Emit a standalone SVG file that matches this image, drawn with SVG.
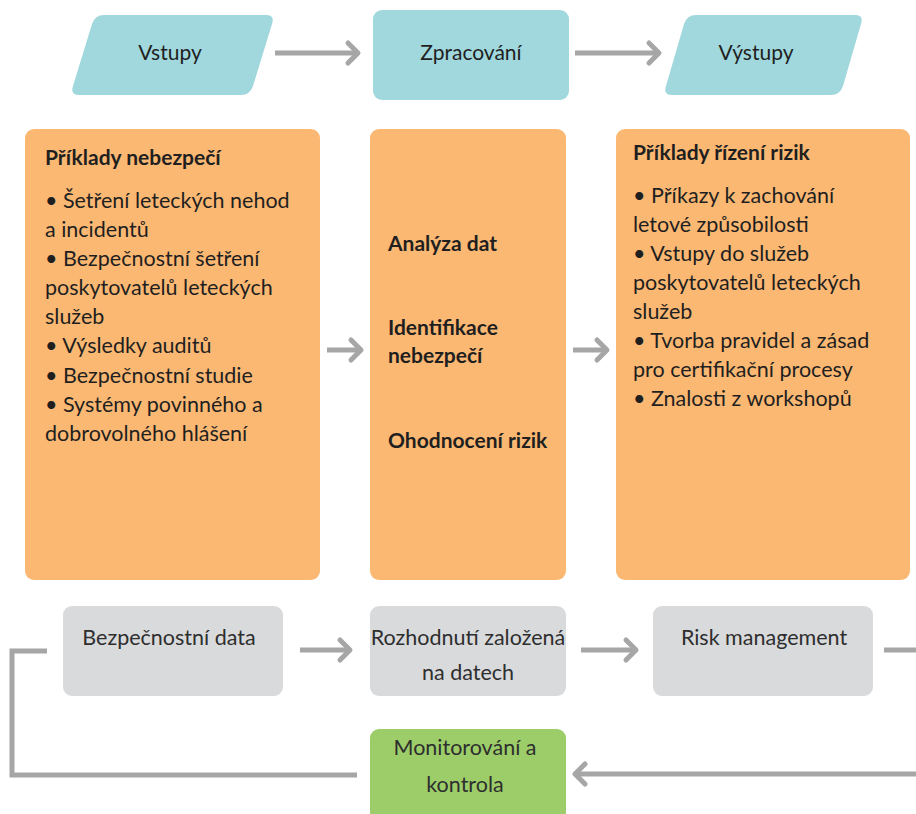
<svg xmlns="http://www.w3.org/2000/svg" width="916" height="814" viewBox="0 0 916 814">
  <style>
    .teal { fill: #a0d8dd; }
    .orange { fill: #fbb873; }
    .gray { fill: #d9dadc; }
    .green { fill: #9ccd69; }
    .lbl { font-family: Lato, "Liberation Sans", sans-serif; fill: #1f1f1f; }
    .top { font-size: 21px; text-anchor: middle; }
    .body { font-size: 21.5px; }
    .bold { font-size: 21px; font-weight: bold; }
    .low { font-size: 21.5px; text-anchor: middle; fill: #2e2e2e; }
    .wire { fill: none; stroke: #a6a6a6; stroke-width: 5; }
  </style>
  <defs>
    <marker id="chev" markerUnits="userSpaceOnUse" viewBox="-16 -14 20 28" refX="0" refY="0" markerWidth="20" markerHeight="28" orient="auto" overflow="visible">
      <path d="M-10,-10 L0,0 L-10,10" fill="none" stroke="#a6a6a6" stroke-width="5" stroke-linecap="round" stroke-linejoin="round"/>
    </marker>
  </defs>

  <rect width="916" height="814" fill="#ffffff"/>

  <!-- top row -->
  <g id="vstupy">
    <path class="teal" d="M104,15 H266 Q275,15 272,24 L253,86 Q250,95 241,95 H79 Q70,95 73,86 L92,24 Q95,15 104,15 Z"/>
    <text class="lbl top" x="170" y="60">Vstupy</text>
  </g>
  <g id="zpracovani">
    <rect class="teal" x="373" y="10" width="196" height="90" rx="9"/>
    <text class="lbl top" x="471" y="60">Zpracování</text>
  </g>
  <g id="vystupy">
    <path class="teal" d="M696,15 H855 Q864,15 861,24 L843,86 Q840,95 831,95 H672 Q663,95 666,86 L684,24 Q687,15 696,15 Z"/>
    <text class="lbl top" x="756" y="60">Výstupy</text>
  </g>

  <!-- middle row -->
  <g id="priklady-nebezpeci">
    <rect class="orange" x="25" y="129" width="295" height="451" rx="9"/>
    <text class="lbl bold" x="45" y="165">Příklady nebezpečí</text>
    <text class="lbl body" x="45" y="208">• Šetření leteckých nehod</text>
    <text class="lbl body" x="45" y="237">a incidentů</text>
    <text class="lbl body" x="45" y="266">• Bezpečnostní šetření</text>
    <text class="lbl body" x="45" y="295">poskytovatelů leteckých</text>
    <text class="lbl body" x="45" y="324">služeb</text>
    <text class="lbl body" x="45" y="353">• Výsledky auditů</text>
    <text class="lbl body" x="45" y="383">• Bezpečnostní studie</text>
    <text class="lbl body" x="45" y="412">• Systémy povinného a</text>
    <text class="lbl body" x="45" y="441">dobrovolného hlášení</text>
  </g>
  <g id="analyza">
    <rect class="orange" x="370" y="129" width="196" height="451" rx="9"/>
    <text class="lbl bold" x="388" y="251">Analýza dat</text>
    <text class="lbl bold" x="388" y="335">Identifikace</text>
    <text class="lbl bold" x="388" y="363">nebezpečí</text>
    <text class="lbl bold" x="388" y="448">Ohodnocení rizik</text>
  </g>
  <g id="priklady-rizeni">
    <rect class="orange" x="616" y="129" width="294" height="451" rx="9"/>
    <text class="lbl bold" x="633" y="160">Příklady řízení rizik</text>
    <text class="lbl body" x="633" y="203">• Příkazy k zachování</text>
    <text class="lbl body" x="633" y="232">letové způsobilosti</text>
    <text class="lbl body" x="633" y="261">• Vstupy do služeb</text>
    <text class="lbl body" x="633" y="290">poskytovatelů leteckých</text>
    <text class="lbl body" x="633" y="319">služeb</text>
    <text class="lbl body" x="633" y="348">• Tvorba pravidel a zásad</text>
    <text class="lbl body" x="633" y="377">pro certifikační procesy</text>
    <text class="lbl body" x="633" y="406">• Znalosti z workshopů</text>
  </g>

  <!-- bottom row -->
  <g id="bezpecnostni-data">
    <rect class="gray" x="63" y="606" width="220" height="90" rx="9"/>
    <text class="lbl low" x="169" y="645">Bezpečnostní data</text>
  </g>
  <g id="rozhodnuti">
    <rect class="gray" x="370" y="606" width="196" height="90" rx="9"/>
    <text class="lbl low" x="468" y="645">Rozhodnutí založená</text>
    <text class="lbl low" x="468" y="680">na datech</text>
  </g>
  <g id="risk-management">
    <rect class="gray" x="653" y="606" width="220" height="90" rx="9"/>
    <text class="lbl low" x="764" y="645">Risk management</text>
  </g>
  <g id="monitorovani">
    <rect class="green" x="370" y="729" width="196" height="95" rx="9"/>
    <text class="lbl low" x="465" y="755">Monitorování a</text>
    <text class="lbl low" x="465" y="792">kontrola</text>
  </g>

  <!-- connectors -->
  <g id="connectors">
    <path class="wire" d="M275,53 H358" marker-end="url(#chev)"/>
    <path class="wire" d="M575,53 H659" marker-end="url(#chev)"/>
    <path class="wire" d="M327,350 H361" marker-end="url(#chev)"/>
    <path class="wire" d="M573,350 H607" marker-end="url(#chev)"/>
    <path class="wire" d="M300,650 H350" marker-end="url(#chev)"/>
    <path class="wire" d="M581,650 H636" marker-end="url(#chev)"/>
    <path class="wire" d="M884,650 H930 V774 H575" marker-end="url(#chev)"/>
    <path class="wire" d="M357,775 H12 V651 H47"/>
  </g>
</svg>
